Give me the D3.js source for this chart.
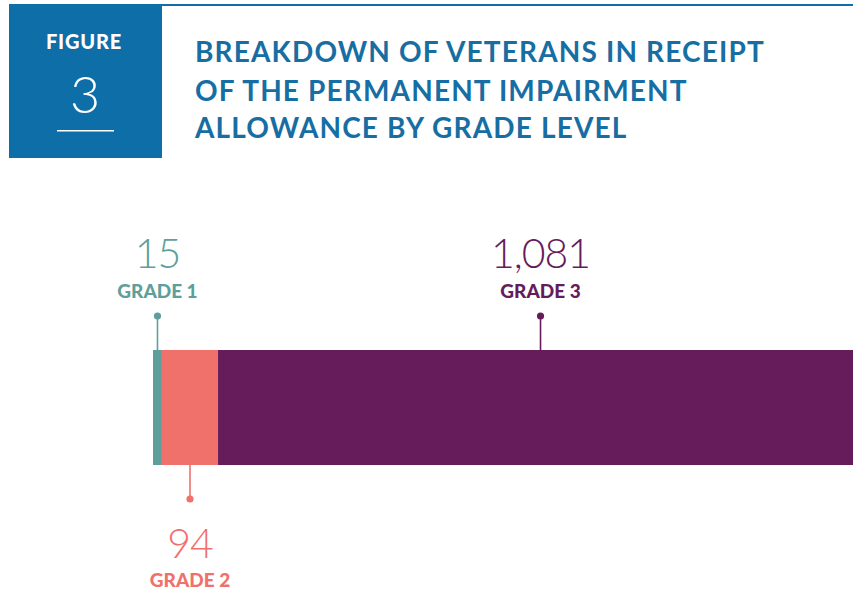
<!DOCTYPE html>
<html>
<head>
<meta charset="utf-8">
<script src="https://cdn.jsdelivr.net/npm/d3@7"></script>
<style>
  html, body { margin: 0; padding: 0; background: #fff; }
  svg { display: block; }
</style>
</head>
<body>
<script>
const categories = ["GRADE 1", "GRADE 2", "GRADE 3"];
const values = [15, 94, 1081];
const valueLabels = ["15", "94", "1,081"];
const titleLines = ["BREAKDOWN OF VETERANS IN RECEIPT", "OF THE PERMANENT IMPAIRMENT", "ALLOWANCE BY GRADE LEVEL"];

const colors = ["#5e9f9b", "#f0716b", "#661c5b"];
const sides = ["above", "below", "above"];
const W = 853, H = 593;

const svg = d3.select("body").append("svg").attr("width", W).attr("height", H);

// Header
const blue = "#0d6ea8";
svg.append("rect").attr("x", 9).attr("y", 4).attr("width", 153).attr("height", 154).attr("fill", blue);
svg.append("rect").attr("x", 162).attr("y", 4).attr("width", W - 162).attr("height", 2).attr("fill", blue);
svg.append("text").attr("x", 84).attr("y", 49).attr("text-anchor", "middle")
  .attr("font-family", "Lato").attr("font-weight", 900).attr("font-size", 20)
  .attr("letter-spacing", 0.8)
  .attr("fill", "#fff").text("FIGURE");
svg.append("text").attr("x", 85).attr("y", 113).attr("text-anchor", "middle")
  .attr("font-family", "Lato").attr("font-weight", 300).attr("font-size", 52)
  .attr("fill", "#fff").text("3");
svg.append("rect").attr("x", 57).attr("y", 130).attr("width", 57).attr("height", 1.5).attr("fill", "#fff");

const titleY = [62, 101, 138];
svg.append("g").selectAll("text").data(titleLines).join("text")
  .attr("x", 195).attr("y", (d, i) => titleY[i])
  .attr("font-family", "Lato").attr("font-weight", 700).attr("font-size", 28)
  .attr("letter-spacing", 1.15)
  .attr("fill", "#176ea3").text(d => d);

// Bar
const total = d3.sum(values);
const x = d3.scaleLinear().domain([0, total]).range([153, 863]);
const starts = d3.cumsum([0].concat(values)).slice(0, values.length);
const data = categories.map((c, i) => ({
  cat: c, v: values[i], label: valueLabels[i], color: colors[i], side: sides[i],
  x0: x(starts[i]), x1: x(starts[i] + values[i])
}));

const barTop = 350, barBot = 465;
svg.append("g").selectAll("rect").data(data).join("rect")
  .attr("x", d => d.x0).attr("y", barTop)
  .attr("width", d => d.x1 - d.x0).attr("height", barBot - barTop)
  .attr("fill", d => d.color);

const g = svg.append("g").selectAll("g").data(data).join("g")
  .attr("transform", d => `translate(${(d.x0 + d.x1) / 2},0)`);

g.append("line")
  .attr("y1", d => d.side === "above" ? 316 : 499)
  .attr("y2", d => d.side === "above" ? barTop : barBot)
  .attr("stroke", d => d.color).attr("stroke-width", 1.6);
g.append("circle")
  .attr("cy", d => d.side === "above" ? 316 : 499)
  .attr("r", 3.6).attr("fill", d => d.color);
g.append("text")
  .attr("y", d => d.side === "above" ? 268 : 558)
  .attr("text-anchor", "middle")
  .attr("font-family", "Lato").attr("font-weight", 300).attr("font-size", 41)
  .attr("letter-spacing", -1)
  .attr("fill", d => d.color).text(d => d.label);
g.append("text")
  .attr("y", d => d.side === "above" ? 298 : 587)
  .attr("text-anchor", "middle")
  .attr("font-family", "Lato").attr("font-weight", 900).attr("font-size", 19)
  .attr("fill", d => d.color).text(d => d.cat);
</script>
</body>
</html>
